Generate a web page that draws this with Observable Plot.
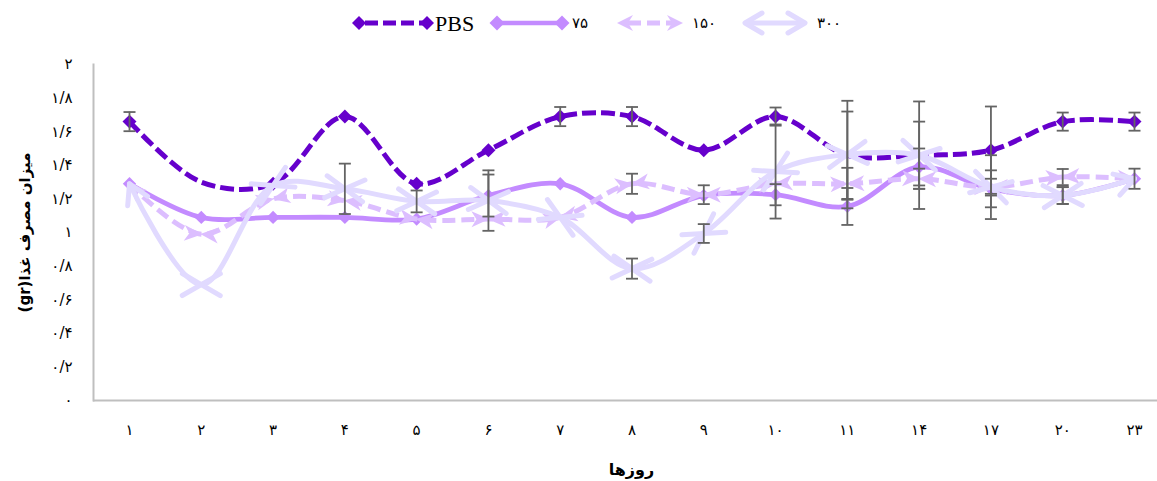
<!DOCTYPE html>
<html><head><meta charset="utf-8">
<script src="https://cdn.jsdelivr.net/npm/d3@7"></script>
<script src="https://cdn.jsdelivr.net/npm/@observablehq/plot@0.6"></script>
<style>
body{margin:0;background:#fff;}
#legend{display:block;}
#chart svg{display:block;}
</style></head><body>
<svg id="legend" width="1157" height="45"></svg>
<div id="chart"></div>
<script>
// ---------- data ----------
const days = [1, 2, 3, 4, 5, 6, 7, 8, 9, 10, 11, 14, 17, 20, 23];
const seriesNames = ["PBS", "۷۵", "۱۵۰", "۳۰۰"];
const pbs    = [1.66, 1.30, 1.29, 1.69, 1.29, 1.49, 1.69, 1.69, 1.49, 1.69, 1.46, 1.46, 1.49, 1.66, 1.66];
const pbsErr = [0.057, 0, 0, 0, 0, 0, 0.057, 0.057, 0, 0.054, 0.26, 0.32, 0.26, 0.054, 0.054];
const s75    = [1.29, 1.09, 1.09, 1.09, 1.08, 1.22, 1.29, 1.09, 1.22, 1.225, 1.155, 1.39, 1.26, 1.22, 1.32];
const s75Err = [0, 0, 0, 0, 0, 0.125, 0, 0, 0, 0.063, 0.11, 0.11, 0.11, 0.05, 0.06];
const s150    = [1.29, 0.99, 1.20, 1.19, 1.08, 1.08, 1.09, 1.29, 1.225, 1.29, 1.29, 1.32, 1.27, 1.33, 1.32];
const s150Err = [0, 0, 0, 0, 0, 0, 0, 0.06, 0.056, 0, 0.095, 0.06, 0.05, 0.048, 0];
const s300    = [1.29, 0.69, 1.28, 1.26, 1.185, 1.19, 1.09, 0.785, 0.994, 1.363, 1.464, 1.46, 1.27, 1.22, 1.32];
const s300Err = [0, 0, 0, 0.15, 0.065, 0.18, 0, 0.06, 0.056, 0.28, 0.32, 0.2, 0.19, 0.05, 0];
const pbsNoMarker = [2, 11, 14];
const yTicks = [0, 0.2, 0.4, 0.6, 0.8, 1, 1.2, 1.4, 1.6, 1.8, 2];
const xTitle = "روزها";
const yTitle = "\u202Bمیزان مصرف غذا(gr)\u202C";

// ---------- helpers ----------
const faDigits = "۰۱۲۳۴۵۶۷۸۹";
const fa = v => String(+(+v).toFixed(2)).replace(/\d/g, d => faDigits[d]).replace(".", "/");
const colors = {PBS: "#6600cc", s75: "#c38bff", s150: "#dcbeff", s300: "#e1daff"};

const mkRows = (vals, errs, name) => vals.map((v, i) => ({day: days[i], v, e: errs[i], name}));
const rPBS = mkRows(pbs, pbsErr, "PBS");
const r75 = mkRows(s75, s75Err, "75");
const r150 = mkRows(s150, s150Err, "150");
const r300 = mkRows(s300, s300Err, "300");
const errRows = [...rPBS, ...r75, ...r150, ...r300].filter(d => d.e > 0);

const NS = "http://www.w3.org/2000/svg";
function mk(context, d, color, filled, sw) {
  const doc = (context && context.document) || document;
  const m = doc.createElementNS(NS, "marker");
  m.setAttribute("viewBox", "-30 -30 60 60");
  m.setAttribute("markerWidth", 60);
  m.setAttribute("markerHeight", 60);
  m.setAttribute("markerUnits", "userSpaceOnUse");
  m.setAttribute("orient", "auto-start-reverse");
  m.setAttribute("overflow", "visible");
  const p = doc.createElementNS(NS, "path");
  p.setAttribute("d", d);
  p.setAttribute("fill", filled ? color : "none");
  p.setAttribute("stroke", filled ? "none" : color);
  p.setAttribute("stroke-width", sw);
  p.setAttribute("stroke-linecap", "round");
  p.setAttribute("stroke-linejoin", "round");
  p.setAttribute("stroke-dasharray", "none");
  p.setAttribute("stroke-opacity", 1);
  p.setAttribute("fill-opacity", 1);
  m.appendChild(p);
  return m;
}
const OPEN = "M-19,-11L0,0L-19,11";
const STEALTH = "M1,0L-17,-8L-12,0L-17,8Z";
const openArrow = color => (c, context) => mk(context, OPEN, color, false, 5);
const stealth = color => (c, context) => mk(context, STEALTH, color, true, 0);

const capSymbol = {draw(ctx) { ctx.moveTo(-6, 0); ctx.lineTo(6, 0); }};
const curve = "catmull-rom";

// ---------- chart ----------
const chart = Plot.plot({
  width: 1157, height: 436,
  marginLeft: 93, marginRight: 0, marginTop: 19, marginBottom: 81,
  style: {fontFamily: "'DejaVu Sans', sans-serif", fontSize: "15px", background: "#fff", color: "#000", overflow: "visible"},
  x: {type: "point", domain: days, range: [129, 1134], padding: 0, round: false, tickSize: 0, tickPadding: 24, tickFormat: fa, label: null},
  y: {domain: [0, 2], ticks: yTicks, tickSize: 0, tickPadding: 21, tickFormat: fa, label: null},
  marks: [
    Plot.ruleY([0], {stroke: "#bfbfbf", strokeWidth: 2}),
    Plot.frame({anchor: "left", stroke: "#bfbfbf", strokeWidth: 2}),
    // PBS
    Plot.line(rPBS, {x: "day", y: "v", curve, stroke: colors.PBS, strokeWidth: 5, strokeDasharray: "14,5", strokeLinecap: "butt"}),
    Plot.dot(rPBS.filter(d => !pbsNoMarker.includes(d.day)), {x: "day", y: "v", symbol: "diamond2", r: 6.3, fill: colors.PBS, stroke: "none"}),
    // 75
    Plot.line(r75, {x: "day", y: "v", curve, stroke: colors.s75, strokeWidth: 4.8}),
    Plot.dot(r75, {x: "day", y: "v", symbol: "diamond2", r: 6, fill: colors.s75, stroke: "none"}),
    // 150
    Plot.line(r150, {x: "day", y: "v", curve, stroke: colors.s150, strokeWidth: 5, strokeDasharray: "13,6", strokeLinecap: "butt",
      markerStart: stealth(colors.s150), markerMid: stealth(colors.s150), markerEnd: stealth(colors.s150)}),
    Plot.line(r150.slice().reverse(), {x: "day", y: "v", curve, stroke: colors.s150, strokeOpacity: 0, strokeWidth: 5,
      markerMid: stealth(colors.s150)}),
    // 300
    Plot.line(r300, {x: "day", y: "v", curve, stroke: colors.s300, strokeWidth: 5,
      markerStart: openArrow(colors.s300), markerMid: openArrow(colors.s300), markerEnd: openArrow(colors.s300)}),
    Plot.line(r300.slice().reverse(), {x: "day", y: "v", curve, stroke: colors.s300, strokeOpacity: 0, strokeWidth: 5,
      markerMid: openArrow(colors.s300)}),
    // error bars
    Plot.ruleX(errRows, {x: "day", y1: d => d.v - d.e, y2: d => d.v + d.e, stroke: "#646464", strokeWidth: 1.8}),
    Plot.dot(errRows, {x: "day", y: d => d.v - d.e, symbol: capSymbol, stroke: "#646464", strokeWidth: 1.8, fill: "none"}),
    Plot.dot(errRows, {x: "day", y: d => d.v + d.e, symbol: capSymbol, stroke: "#646464", strokeWidth: 1.8, fill: "none"}),
    // titles
    Plot.text([yTitle], {frameAnchor: "left", textAnchor: "middle", dx: -68, rotate: -90, fontWeight: "bold", fontSize: 15, fill: "#000"}),
    Plot.text([xTitle], {frameAnchor: "bottom", textAnchor: "middle", dx: 6, dy: 74, fontWeight: "bold", fontSize: 16, fill: "#000"})
  ]
});
document.getElementById("chart").appendChild(chart);

// ---------- legend ----------
const lg = d3.select("#legend");
const cy = 23;
function diamond(g, x, color, r) {
  g.append("path").attr("d", `M${x},${cy - r}L${x + r},${cy}L${x},${cy + r}L${x - r},${cy}Z`).attr("fill", color);
}
// PBS
lg.append("line").attr("x1", 359).attr("x2", 427).attr("y1", cy).attr("y2", cy)
  .attr("stroke", colors.PBS).attr("stroke-width", 5).attr("stroke-dasharray", "13,5").attr("stroke-dashoffset", -6);
diamond(lg, 359, colors.PBS, 7); diamond(lg, 427, colors.PBS, 7);
lg.append("text").attr("x", 435).attr("y", cy + 8).attr("font-family", "'Liberation Serif', serif").attr("font-size", 22).text(seriesNames[0]);
// 75
lg.append("line").attr("x1", 497).attr("x2", 562).attr("y1", cy).attr("y2", cy).attr("stroke", colors.s75).attr("stroke-width", 4.5);
diamond(lg, 497, colors.s75, 7.5); diamond(lg, 562, colors.s75, 7.5);
lg.append("text").attr("x", 572).attr("y", cy + 5).attr("font-family", "'DejaVu Sans', sans-serif").attr("font-size", 15).text(seriesNames[1]);
// 150
lg.append("line").attr("x1", 624).attr("x2", 676).attr("y1", cy).attr("y2", cy)
  .attr("stroke", colors.s150).attr("stroke-width", 5).attr("stroke-dasharray", "13,6").attr("stroke-dashoffset", -4);
lg.append("path").attr("d", `M617,${cy}L633,${cy - 8}L628,${cy}L633,${cy + 8}Z`).attr("fill", colors.s150);
lg.append("path").attr("d", `M683,${cy}L667,${cy - 8}L672,${cy}L667,${cy + 8}Z`).attr("fill", colors.s150);
lg.append("text").attr("x", 692).attr("y", cy + 5).attr("font-family", "'DejaVu Sans', sans-serif").attr("font-size", 15).text(seriesNames[2]);
// 300
lg.append("line").attr("x1", 745).attr("x2", 805).attr("y1", cy).attr("y2", cy).attr("stroke", colors.s300).attr("stroke-width", 5);
lg.append("path").attr("d", `M762,${cy - 10}L745,${cy}L762,${cy + 10}`).attr("fill", "none").attr("stroke", colors.s300)
  .attr("stroke-width", 5).attr("stroke-linecap", "round").attr("stroke-linejoin", "round");
lg.append("path").attr("d", `M788,${cy - 10}L805,${cy}L788,${cy + 10}`).attr("fill", "none").attr("stroke", colors.s300)
  .attr("stroke-width", 5).attr("stroke-linecap", "round").attr("stroke-linejoin", "round");
lg.append("text").attr("x", 817).attr("y", cy + 5).attr("font-family", "'DejaVu Sans', sans-serif").attr("font-size", 15).text(seriesNames[3]);
</script>
</body></html>
